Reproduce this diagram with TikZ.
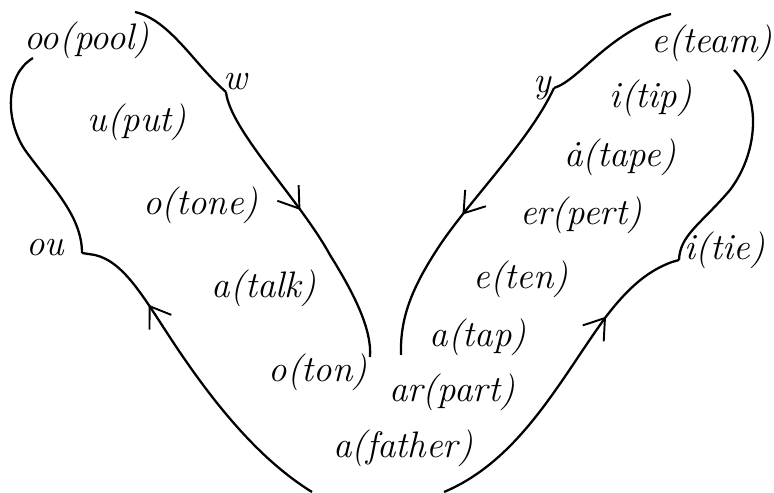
\documentclass[tikz,border=0pt]{standalone}
\usetikzlibrary{arrows.meta,decorations.markings}
\begin{document}
\begin{tikzpicture}[x=0.02cm,y=-0.02cm,
	vowel/.style={font=\fontsize{21}{24}\selectfont\itshape, inner sep=0pt},
	glide/.style={line width=1.3pt},
	midarrow/.style={postaction={decorate}, decoration={markings,
		mark=at position #1 with {\arrow{Straight Barb[length=11pt,width=15pt,line width=1.1pt]}}}}]
	
	\useasboundingbox (0,0) rectangle (774,493);
	
	% ---- Vowel labels ----
	\foreach \x/\y/\name/\txt in {
		87/40/pool/oo(pool),
		235/82/w/w,
		137/122/put/u(put),
		201/205/tone/o(tone),
		45/248/ou/ou,
		264/288/talk/a(talk),
		318/372/ton/o(ton),
		403/448/father/a(father),
		452/392/part/ar(part),
		478/337/tap/a(tap),
		521/279/ten/e(ten),
		725/250/tie/i(tie),
		581/215/pert/er(pert),
		620/157/tape/\.{a}(tape),
		651/98/tip/i(tip),
		712/43/team/e(team),
		542/88/y/y
	}
	{
		\node[vowel] (\name) at (\x,\y) {\txt};
	}
	
	% ---- Ends and kinks of the glides ----
	\coordinate (poolend) at (33,58);
	\coordinate (oukink) at (82,253);
	\coordinate (ouhook) at (95,255);
	\coordinate (fatherleft) at (312,492);
	\coordinate (wtop) at (135,12);
	\coordinate (wkink) at (226,92);
	\coordinate (tonend) at (370,357);
	\coordinate (ytop) at (671,14);
	\coordinate (ykink) at (554,88);
	\coordinate (tapend) at (401,355);
	\coordinate (teamend) at (734,70);
	\coordinate (tiekink) at (679,260);
	\coordinate (tiehook) at (672,262);
	\coordinate (fatherright) at (444,492);
	
	% ---- Left side ----
	\draw[glide] (oukink) .. controls (82,215) and (50,185) .. (25,150)
		.. controls (5,120) and (5,75) .. (poolend);
	\draw[glide, midarrow=0.74] (fatherleft) .. controls (260,460) and (215,405) .. (175,345)
		.. controls (145,300) and (125,262) .. (ouhook) -- (oukink);
	\draw[glide] (wtop) .. controls (170,20) and (195,65) .. (wkink);
	\draw[glide, midarrow=0.46] (wkink) .. controls (230,130) and (300,200) .. (330,255)
		.. controls (355,295) and (372,330) .. (tonend);
	
	% ---- Right side ----
	\draw[glide] (ykink) .. controls (580,80) and (610,30) .. (ytop);
	\draw[glide, midarrow=0.5] (ykink) .. controls (530,140) and (470,200) .. (440,245)
		.. controls (410,290) and (400,320) .. (tapend);
	\draw[glide] (teamend) .. controls (760,95) and (760,150) .. (730,190)
		.. controls (700,225) and (680,235) .. (tiekink);
	\draw[glide, midarrow=0.72] (fatherright) .. controls (520,460) and (560,380) .. (605,318)
		.. controls (630,285) and (650,270) .. (tiehook) -- (tiekink);
	
\end{tikzpicture}
\end{document}
